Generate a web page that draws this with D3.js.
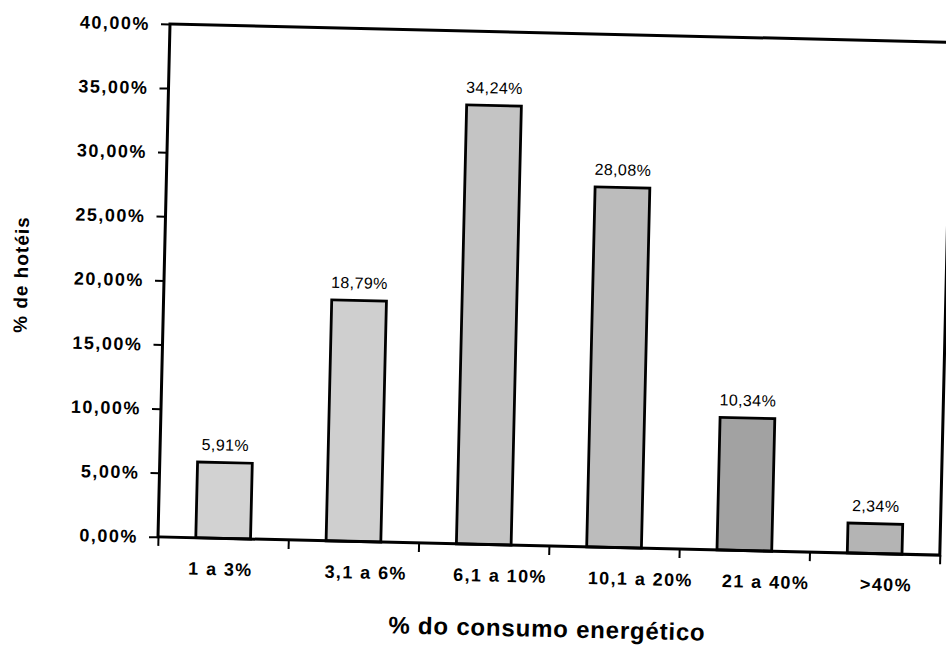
<!DOCTYPE html>
<html>
<head>
<meta charset="utf-8">
<script src="https://cdn.jsdelivr.net/npm/d3@7"></script>
<style>
  html, body { margin: 0; padding: 0; background: #ffffff; }
  svg { display: block; }
  text { font-family: "Liberation Sans", Arial, Helvetica, sans-serif; fill: #000; }
</style>
</head>
<body>
<script>
// ---- data ----
const categories = ["1 a 3%", "3,1 a 6%", "6,1 a 10%", "10,1 a 20%", "21 a 40%", ">40%"];
const values = [5.91, 18.79, 34.24, 28.08, 10.34, 2.34];
const valueLabels = ["5,91%", "18,79%", "34,24%", "28,08%", "10,34%", "2,34%"];
const yTickValues = [0, 5, 10, 15, 20, 25, 30, 35, 40];
const yTitle = "% de hotéis";
const xTitle = "% do consumo energético";

// ---- styles / layout constants ----
const barFills = ["#d2d2d2", "#cfcfcf", "#c4c4c4", "#bcbcbc", "#a2a2a2", "#b4b4b4"];
const labelNudge = [-2, 13, 17, 27, 22, 12]; // category labels sit off-centre in the original

const chartW = 946, chartH = 645;
const mLeft = 170, mTop = 24, W = 782, H = 513;
const tilt = 1.34; // scan is slightly rotated

const locale = d3.formatLocale({decimal: ",", thousands: ".", grouping: [3], currency: ["", "€"]});
const fmt = locale.format(".2f");

const svg = d3.select("body").append("svg")
  .attr("width", chartW).attr("height", chartH);

const g = svg.append("g")
  .attr("transform", `translate(${mLeft},${mTop}) rotate(${tilt})`);

const x = d3.scaleBand().domain(categories).range([0, W]).paddingInner(0.58).paddingOuter(0.29);
const xb = d3.scaleLinear().domain([0, categories.length]).range([0, W]);
const y = d3.scaleLinear().domain([0, 40]).range([H, 0]);

// bars
g.selectAll("rect.bar").data(values).join("rect")
  .attr("class", "bar")
  .attr("x", (d, i) => x(categories[i]))
  .attr("y", d => y(d))
  .attr("width", x.bandwidth())
  .attr("height", d => y(0) - y(d))
  .attr("fill", (d, i) => barFills[i])
  .attr("stroke", "#000")
  .attr("stroke-width", 2.8);

// value labels
g.selectAll("text.val").data(values).join("text")
  .attr("class", "val")
  .attr("x", (d, i) => x(categories[i]) + x.bandwidth() / 2)
  .attr("y", d => y(d) - 12)
  .attr("text-anchor", "middle")
  .style("font-size", "16px")
  .style("letter-spacing", "0.4px")
  .text((d, i) => valueLabels[i]);

// frame
g.append("rect")
  .attr("x", 0).attr("y", 0).attr("width", W).attr("height", H)
  .attr("fill", "none").attr("stroke", "#000").attr("stroke-width", 3);

// y axis
const yAxis = g.append("g")
  .call(d3.axisLeft(y).tickValues(yTickValues).tickSize(9).tickPadding(11)
    .tickFormat(d => fmt(d) + "%"));
yAxis.select(".domain").remove();
yAxis.selectAll(".tick line").attr("stroke", "#000").attr("stroke-width", 2);
yAxis.selectAll(".tick text")
  .style("font-size", "18px").style("font-weight", "bold")
  .style("letter-spacing", "1.5px").style("font-family", "'Liberation Sans', Arial, sans-serif");

// x boundary ticks
const xTicks = g.append("g").attr("transform", `translate(0,${H})`)
  .call(d3.axisBottom(xb).tickValues(d3.range(categories.length + 1)).tickSize(9).tickFormat(""));
xTicks.select(".domain").remove();
xTicks.selectAll(".tick line").attr("stroke", "#000").attr("stroke-width", 2);

// x category labels
const xAxis = g.append("g").attr("transform", `translate(0,${H})`)
  .call(d3.axisBottom(x).tickSize(0).tickPadding(0));
xAxis.select(".domain").remove();
xAxis.selectAll(".tick text")
  .attr("y", 37).attr("dy", 0)
  .attr("dx", (d, i) => labelNudge[i])
  .style("font-size", "18px").style("font-weight", "bold")
  .style("letter-spacing", "1.4px").style("font-family", "'Liberation Sans', Arial, sans-serif");

// axis titles
g.append("text")
  .attr("x", W / 2).attr("y", 604)
  .attr("text-anchor", "middle")
  .style("font-size", "24px").style("font-weight", "bold").style("letter-spacing", "0.8px")
  .text(xTitle);

g.append("text")
  .attr("transform", `translate(-143,254) rotate(-90)`)
  .attr("text-anchor", "middle")
  .attr("dy", "0.35em")
  .style("font-size", "19px").style("font-weight", "bold").style("letter-spacing", "1px")
  .text(yTitle);
</script>
</body>
</html>
